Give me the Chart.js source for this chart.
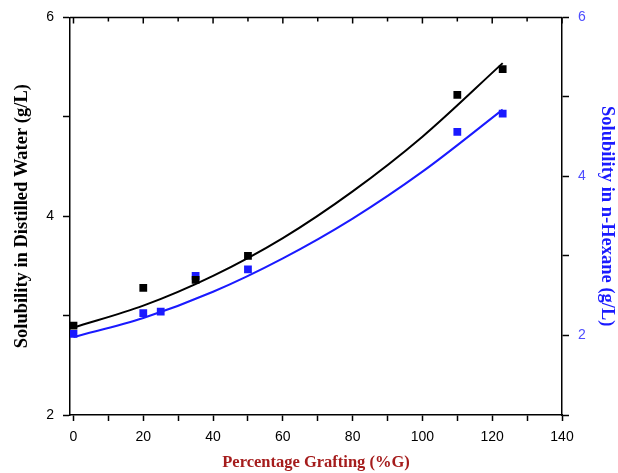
<!DOCTYPE html>
<html>
<head>
<meta charset="utf-8">
<script src="https://cdn.jsdelivr.net/npm/chart.js@4/dist/chart.umd.min.js"></script>
<style>
  body { margin: 0; background: #fff; }
</style>
</head>
<body>
<canvas id="myChart" width="618" height="473"></canvas>
<script>
// Datos
const grafting = [0, 20, 35, 50, 110, 123];
const waterSolubility = [2.90, 3.28, 3.36, 3.60, 5.22, 5.48];
const hexaneGrafting = [0, 20, 25, 35, 50, 110, 123];
const hexaneSolubility = [2.02, 2.28, 2.30, 2.75, 2.83, 4.56, 4.79];

// Curvas de ajuste
const fitX = [0, 20, 40, 60, 80, 100, 123];
const waterFit = [2.88, 3.10, 3.40, 3.78, 4.25, 4.80, 5.54];
const hexaneFit = [1.98, 2.22, 2.55, 2.97, 3.47, 4.06, 4.84];

// Marcas del eje X
const xTicks = [0, 10, 20, 30, 40, 50, 60, 70, 80, 90, 100, 110, 120, 130, 140];

const toXY = (xs, ys) => xs.map((x, i) => ({ x: x, y: ys[i] }));

const BLUE = '#1a1aff';
const TICK_BLUE = '#4d4dff';
const tickFont = { family: 'Liberation Sans, Arial, sans-serif', size: 14 };
const yTitleFont = { family: 'Liberation Serif, Times New Roman, serif', size: 18.5, weight: 'bold' };
const xTitleFont = { family: 'Liberation Serif, Times New Roman, serif', size: 16.5, weight: 'bold' };

// Marco superior con marcas hacia dentro
const topFrame = {
  id: 'topFrame',
  afterDraw(chart) {
    const { ctx, chartArea, scales } = chart;
    ctx.save();
    ctx.strokeStyle = '#000';
    ctx.lineWidth = 1.5;
    ctx.beginPath();
    ctx.moveTo(chartArea.left, chartArea.top);
    ctx.lineTo(chartArea.right, chartArea.top);
    xTicks.forEach(v => {
      const px = scales.x.getPixelForValue(v);
      ctx.moveTo(px, chartArea.top);
      ctx.lineTo(px, chartArea.top + (v % 20 === 0 ? 6 : 4));
    });
    ctx.stroke();
    ctx.restore();
  }
};

const ctx = document.getElementById('myChart');
new Chart(ctx, {
  type: 'scatter',
  data: {
    datasets: [
      {
        label: 'Distilled Water',
        data: toXY(grafting, waterSolubility),
        yAxisID: 'y',
        pointStyle: 'rect',
        pointRadius: 5.5,
        backgroundColor: '#000',
        borderColor: '#000',
        borderWidth: 0
      },
      {
        label: 'n-Hexane',
        data: toXY(hexaneGrafting, hexaneSolubility),
        yAxisID: 'y1',
        pointStyle: 'rect',
        pointRadius: 5.5,
        backgroundColor: BLUE,
        borderColor: BLUE,
        borderWidth: 0
      },
      {
        label: 'Ajuste agua',
        data: toXY(fitX, waterFit),
        yAxisID: 'y',
        showLine: true,
        pointRadius: 0,
        borderColor: '#000',
        borderWidth: 2,
        cubicInterpolationMode: 'monotone'
      },
      {
        label: 'Ajuste hexano',
        data: toXY(fitX, hexaneFit),
        yAxisID: 'y1',
        showLine: true,
        pointRadius: 0,
        borderColor: BLUE,
        borderWidth: 2,
        cubicInterpolationMode: 'monotone'
      }
    ]
  },
  options: {
    responsive: false,
    animation: false,
    layout: { padding: { top: 15, left: 0, right: 0, bottom: 0 } },
    plugins: {
      legend: { display: false },
      tooltip: { enabled: false }
    },
    scales: {
      x: {
        type: 'linear',
        min: -1,
        max: 140,
        afterBuildTicks: s => { s.ticks = xTicks.map(v => ({ value: v })); },
        afterFit: s => { s.height = 58; },
        ticks: {
          color: '#000',
          font: tickFont,
          padding: 8,
          maxRotation: 0,
          autoSkip: false,
          callback: v => (v % 20 === 0 ? v : '')
        },
        grid: { drawOnChartArea: false, tickLength: 6, tickColor: '#000', tickWidth: 1.5 },
        border: { color: '#000', width: 1.5 },
        title: {
          display: true,
          text: 'Percentage Grafting (%G)',
          color: '#a51c1c',
          font: xTitleFont,
          padding: { top: 0, bottom: 0 }
        }
      },
      y: {
        position: 'left',
        min: 2,
        max: 6,
        afterFit: s => { s.width = 70; },
        ticks: {
          stepSize: 1,
          color: '#000',
          font: tickFont,
          padding: 9,
          callback: v => (v % 2 === 0 ? v : '')
        },
        grid: { drawOnChartArea: false, tickLength: 7, tickColor: '#000', tickWidth: 1.5 },
        border: { color: '#000', width: 1.5 },
        title: {
          display: true,
          text: 'Solubility in Distilled Water (g/L)',
          color: '#000',
          font: yTitleFont,
          padding: { top: 11, bottom: 0 }
        }
      },
      y1: {
        position: 'right',
        min: 1,
        max: 6,
        afterFit: s => { s.width = 56; },
        ticks: {
          stepSize: 1,
          color: TICK_BLUE,
          font: tickFont,
          padding: 9,
          callback: v => (v % 2 === 0 ? v : '')
        },
        grid: { drawOnChartArea: false, tickLength: 7, tickColor: '#000', tickWidth: 1.5 },
        border: { color: '#000', width: 1.5 },
        title: {
          display: true,
          text: 'Solubility in n-Hexane (g/L)',
          color: BLUE,
          font: yTitleFont,
          padding: { top: 0, bottom: 2 }
        }
      }
    }
  },
  plugins: [topFrame]
});
</script>
</body>
</html>
